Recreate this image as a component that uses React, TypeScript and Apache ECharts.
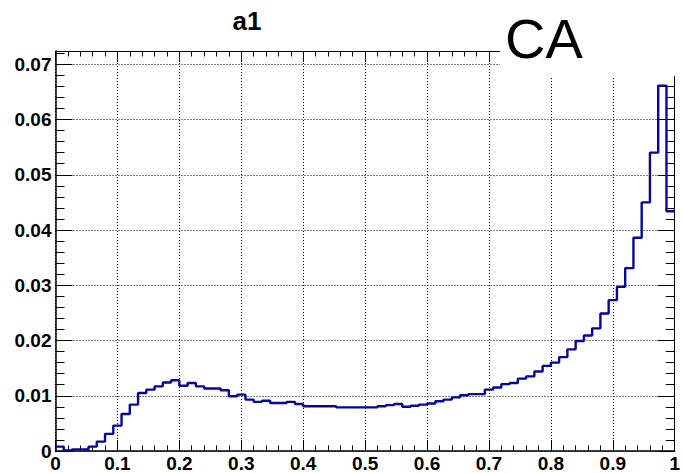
import React, { useEffect, useRef } from "react";
import * as echarts from "echarts";

// Histogram "a1": 75 equal bins between binLow and binHigh
const binLow = 0;
const binHigh = 1;
const binValues = [
  0.0008, 0.0001, 0.0003, 0.0003, 0.0008, 0.0017, 0.0031, 0.0046, 0.0067, 0.0084,
  0.0105, 0.0111, 0.0117, 0.0124, 0.0128, 0.0118, 0.0123, 0.0117, 0.0113, 0.0113,
  0.0110, 0.0099, 0.0102, 0.0093, 0.0089, 0.0091, 0.0087, 0.0087, 0.0089, 0.0085,
  0.0081, 0.0081, 0.0081, 0.0081, 0.0079, 0.0079, 0.0079, 0.0079, 0.0079, 0.0081,
  0.0083, 0.0085, 0.0080, 0.0082, 0.0084, 0.0086, 0.0090, 0.0093, 0.0097, 0.0101,
  0.0103, 0.0103, 0.0111, 0.0115, 0.0121, 0.0123, 0.0131, 0.0135, 0.0144, 0.0154,
  0.0160, 0.0170, 0.0184, 0.0199, 0.0209, 0.0222, 0.0249, 0.0273, 0.0297, 0.0331,
  0.0386, 0.0450, 0.0540, 0.0661, 0.0434,
];
const yMax = 0.0724;
const xMajor = 0.1;
const yMajor = 0.01;
const yMinor = 0.002;
const titleText = "a1";
const tagText = "CA";

const FONT = '"Liberation Sans", Arial, sans-serif';

export default function App() {
  const ref = useRef<HTMLDivElement>(null);
  useEffect(() => {
    const chart = echarts.init(ref.current!, null, { renderer: "svg" });
    const nb = binValues.length;
    const w = (binHigh - binLow) / nb;
    const data: number[][] = binValues.map((v, i) => [binLow + i * w, v]);
    data.push([binHigh, binValues[nb - 1]]);

    const labelStyle = {
      color: "#000",
      fontFamily: FONT,
      fontWeight: "bold" as const,
      fontSize: 19,
    };
    const tickStyle = { color: "#000", width: 1 };
    const gridLine = { show: true, lineStyle: { color: "#000", width: 1, type: [1, 2] as any } };

    const xFmt = (v: number) => {
      const k = Math.round(v * 10);
      if (Math.abs(v * 10 - k) > 1e-6) return "";
      if (k === 0) return "0";
      if (k === 10) return "1";
      return (k / 10).toFixed(1);
    };
    const yFmt = (v: number) => {
      const k = Math.round(v * 100);
      if (Math.abs(v * 100 - k) > 1e-6) return "";
      if (k === 0) return "0";
      return (k / 100).toFixed(2);
    };

    chart.setOption({
      animation: false,
      backgroundColor: "#fff",
      grid: { left: 55.5, right: 0.5, top: 51, bottom: 19.5, containLabel: false },
      xAxis: [
        {
          type: "value",
          position: "bottom",
          min: binLow,
          max: binHigh,
          interval: xMajor,
          axisLine: { show: true, onZero: false, lineStyle: { color: "#000", width: 1.5 } },
          axisTick: { show: true, inside: true, length: 11, lineStyle: tickStyle },
          minorTick: { show: true, splitNumber: 5, length: 5.5, lineStyle: tickStyle },
          splitLine: gridLine,
          axisLabel: { ...labelStyle, margin: 3, formatter: xFmt },
        },
        {
          type: "value",
          position: "top",
          min: binLow,
          max: binHigh,
          interval: xMajor,
          axisLine: { show: true, onZero: false, lineStyle: { color: "#000", width: 1 } },
          axisTick: { show: true, inside: true, length: 11, lineStyle: tickStyle },
          minorTick: { show: true, splitNumber: 5, length: 5.5, lineStyle: tickStyle },
          splitLine: { show: false },
          axisLabel: { show: false },
        },
      ],
      yAxis: [
        {
          type: "value",
          position: "left",
          min: 0,
          max: yMax,
          interval: yMajor,
          axisLine: { show: true, onZero: false, lineStyle: { color: "#000", width: 1.5 } },
          axisTick: { show: true, inside: true, length: 17, lineStyle: tickStyle },
          splitLine: gridLine,
          axisLabel: { ...labelStyle, margin: 4, formatter: yFmt, showMaxLabel: false },
        },
        {
          type: "value",
          position: "left",
          min: 0,
          max: yMax,
          interval: yMinor,
          axisLine: { show: false, onZero: false },
          axisTick: { show: true, inside: true, length: 9, lineStyle: tickStyle },
          splitLine: { show: false },
          axisLabel: { show: false },
        },
        {
          type: "value",
          position: "right",
          min: 0,
          max: yMax,
          interval: yMajor,
          axisLine: { show: true, onZero: false, lineStyle: { color: "#000", width: 1 } },
          axisTick: { show: true, inside: true, length: 17, lineStyle: tickStyle },
          splitLine: { show: false },
          axisLabel: { show: false },
        },
        {
          type: "value",
          position: "right",
          min: 0,
          max: yMax,
          interval: yMinor,
          axisLine: { show: false, onZero: false },
          axisTick: { show: true, inside: true, length: 9, lineStyle: tickStyle },
          splitLine: { show: false },
          axisLabel: { show: false },
        },
      ],
      series: [
        {
          type: "line",
          name: titleText,
          xAxisIndex: 0,
          yAxisIndex: 0,
          step: "end",
          symbol: "none",
          data,
          lineStyle: { color: "#0505a0", width: 2.4 },
          z: 5,
        },
      ],
      graphic: [
        {
          type: "rect",
          shape: { x: 500, y: 0, width: 183, height: 76 },
          style: { fill: "#fff" },
          z: 100,
        },
        {
          type: "text",
          x: 505,
          y: 38,
          style: {
            text: tagText,
            font: `56px ${FONT}`,
            fill: "#000",
            textAlign: "left",
            textVerticalAlign: "middle",
            align: "left",
            verticalAlign: "middle",
          } as any,
          z: 101,
        },
        {
          type: "text",
          x: 247,
          y: 21,
          style: {
            text: titleText,
            font: `bold 26px ${FONT}`,
            fill: "#000",
            textAlign: "center",
            textVerticalAlign: "middle",
            align: "center",
            verticalAlign: "middle",
          } as any,
          z: 101,
        },
      ],
    });
    return () => chart.dispose();
  }, []);
  return (
    <div
      ref={ref}
      style={{ position: "fixed", left: 0, top: 0, width: 683, height: 473, background: "#fff" }}
    />
  );
}
